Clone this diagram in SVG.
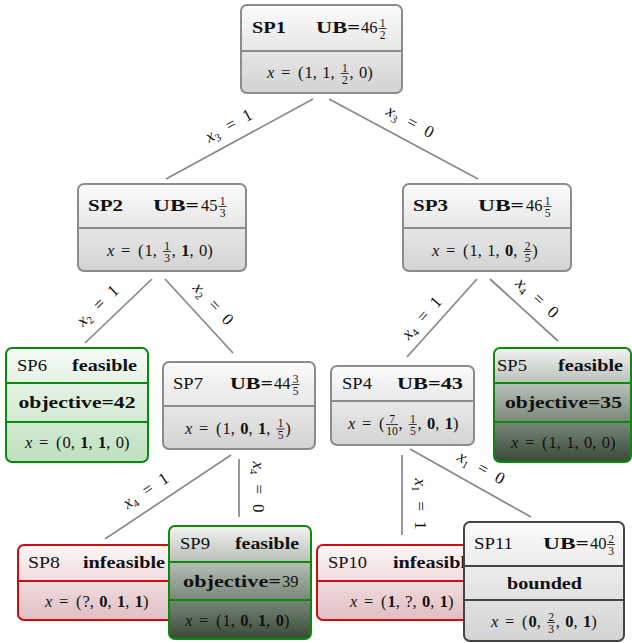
<svg xmlns="http://www.w3.org/2000/svg" width="632" height="643" viewBox="0 0 632 643">
<defs>
<linearGradient id="gGray" x1="0" y1="0" x2="0" y2="1"><stop offset="0" stop-color="#fbfbfb"/><stop offset="1" stop-color="#d3d3d3"/></linearGradient>
<linearGradient id="gGreen" x1="0" y1="0" x2="0" y2="1"><stop offset="0" stop-color="#f6fbf6"/><stop offset="1" stop-color="#bfe0bf"/></linearGradient>
<linearGradient id="gDark" x1="0" y1="0" x2="0" y2="1"><stop offset="0" stop-color="#f3f3f3"/><stop offset="0.5" stop-color="#95a195"/><stop offset="1" stop-color="#384a38"/></linearGradient>
<linearGradient id="gRed" x1="0" y1="0" x2="0" y2="1"><stop offset="0" stop-color="#fdf6f6"/><stop offset="1" stop-color="#e0bfc3"/></linearGradient>
</defs>
<style>
.t{font-family:"Liberation Serif",serif;font-size:16.5px;fill:#111}
.b{font-weight:bold}
.i{font-style:italic}
.fr{font-family:"Liberation Serif",serif;font-size:11.5px;fill:#111;text-anchor:middle}
.bar{stroke:#111;stroke-width:0.8}
.gray{fill:url(#gGray);stroke:#8c8c8c;stroke-width:2}
.grayd{stroke:#8c8c8c;stroke-width:2}
.dark{fill:url(#gGray);stroke:#444;stroke-width:2}
.darkd{stroke:#444;stroke-width:2}
.green{fill:url(#gGreen);stroke:#0a8a0a;stroke-width:2}
.dgreen{fill:url(#gDark);stroke:#0a8a0a;stroke-width:2}
.greend{stroke:#0a8a0a;stroke-width:2}
.red{fill:url(#gRed);stroke:#c81010;stroke-width:2}
.redd{stroke:#c81010;stroke-width:2}
.edge{stroke:#888;stroke-width:1.7;fill:none}
.lbl{font-family:"Liberation Serif",serif;font-size:17px;fill:#111;text-anchor:middle}
.sub{font-size:11px}
</style>

<g id="connectors">
<line class="edge" x1="313" y1="99" x2="166" y2="179"/>
<line class="edge" x1="329" y1="99" x2="478" y2="179"/>
<line class="edge" x1="152" y1="279" x2="85" y2="343"/>
<line class="edge" x1="165" y1="279" x2="233" y2="353"/>
<line class="edge" x1="477" y1="279" x2="407" y2="357"/>
<line class="edge" x1="490" y1="279" x2="558" y2="341"/>
<line class="edge" x1="231" y1="455" x2="105" y2="539"/>
<line class="edge" x1="239" y1="459" x2="239" y2="517"/>
<line class="edge" x1="402" y1="455" x2="402" y2="535"/>
<line class="edge" x1="410" y1="449" x2="531" y2="517"/>
<text class="lbl" x="229" y="131" transform="rotate(-28.6 229 126)"><tspan class="i">x</tspan><tspan class="sub" dy="3.5">3</tspan><tspan dy="-3.5" dx="10">=</tspan><tspan dx="10">1</tspan></text>
<text class="lbl" x="410" y="127" transform="rotate(28.2 410 122)"><tspan class="i">x</tspan><tspan class="sub" dy="3.5">3</tspan><tspan dy="-3.5" dx="10">=</tspan><tspan dx="10">0</tspan></text>
<text class="lbl" x="98" y="311" transform="rotate(-43.7 98 306)"><tspan class="i">x</tspan><tspan class="sub" dy="3.5">2</tspan><tspan dy="-3.5" dx="10">=</tspan><tspan dx="10">1</tspan></text>
<text class="lbl" x="213" y="309" transform="rotate(47.4 213 304)"><tspan class="i">x</tspan><tspan class="sub" dy="3.5">2</tspan><tspan dy="-3.5" dx="10">=</tspan><tspan dx="10">0</tspan></text>
<text class="lbl" x="422" y="323" transform="rotate(-48.1 422 318)"><tspan class="i">x</tspan><tspan class="sub" dy="3.5">4</tspan><tspan dy="-3.5" dx="10">=</tspan><tspan dx="10">1</tspan></text>
<text class="lbl" x="537" y="303" transform="rotate(42.4 537 298)"><tspan class="i">x</tspan><tspan class="sub" dy="3.5">4</tspan><tspan dy="-3.5" dx="10">=</tspan><tspan dx="10">0</tspan></text>
<text class="lbl" x="146" y="496" transform="rotate(-33.7 146 491)"><tspan class="i">x</tspan><tspan class="sub" dy="3.5">4</tspan><tspan dy="-3.5" dx="10">=</tspan><tspan dx="10">1</tspan></text>
<text class="lbl" x="258" y="492" transform="rotate(90 258 487)"><tspan class="i">x</tspan><tspan class="sub" dy="3.5">4</tspan><tspan dy="-3.5" dx="10">=</tspan><tspan dx="10">0</tspan></text>
<text class="lbl" x="420" y="509" transform="rotate(90 420 504)"><tspan class="i">x</tspan><tspan class="sub" dy="3.5">1</tspan><tspan dy="-3.5" dx="10">=</tspan><tspan dx="10">1</tspan></text>
<text class="lbl" x="481" y="473" transform="rotate(29.3 481 468)"><tspan class="i">x</tspan><tspan class="sub" dy="3.5">1</tspan><tspan dy="-3.5" dx="10">=</tspan><tspan dx="10">0</tspan></text>
</g>

<g id="SP1">
<rect class="gray" x="241" y="5" width="161" height="88" rx="6"/>
<line class="grayd" x1="241" y1="51" x2="402" y2="51"/>
<text class="t b" x="252" y="33" textLength="34" lengthAdjust="spacingAndGlyphs">SP1</text>
<text class="t b" x="316" y="33" textLength="44" lengthAdjust="spacingAndGlyphs">UB=</text>
<text class="t" x="361" y="33">46</text>
<text class="fr" x="382.5" y="26.5">1</text><text class="fr" x="382.5" y="38.5">2</text><line class="bar" x1="378.5" y1="28.5" x2="386.5" y2="28.5"/>
<text class="t" y="78"><tspan class="i" x="267">x</tspan><tspan x="281">=</tspan><tspan x="298">(</tspan><tspan x="304.5">1,</tspan><tspan x="322.25">1,</tspan><tspan x="349.5">,</tspan><tspan x="359">0)</tspan></text>
<text class="fr" x="344.75" y="71.5">1</text><text class="fr" x="344.75" y="83.5">2</text><line class="bar" x1="340.75" y1="73.5" x2="348.75" y2="73.5"/>
</g>

<g id="SP2">
<rect class="gray" x="78" y="184" width="168" height="87" rx="6"/>
<line class="grayd" x1="78" y1="228" x2="246" y2="228"/>
<text class="t b" x="88" y="211" textLength="35" lengthAdjust="spacingAndGlyphs">SP2</text>
<text class="t b" x="153" y="211" textLength="46" lengthAdjust="spacingAndGlyphs">UB=</text>
<text class="t" x="201" y="211">45</text>
<text class="fr" x="222.5" y="204.5">1</text><text class="fr" x="222.5" y="216.5">3</text><line class="bar" x1="218.5" y1="206.5" x2="226.5" y2="206.5"/>
<text class="t" y="256"><tspan class="i" x="107">x</tspan><tspan x="121">=</tspan><tspan x="138">(</tspan><tspan x="144.5">1,</tspan><tspan x="171.75">,</tspan><tspan x="181.25" class="b">1</tspan><tspan>,</tspan><tspan x="199">0)</tspan></text>
<text class="fr" x="167" y="249.5">1</text><text class="fr" x="167" y="261.5">3</text><line class="bar" x1="163" y1="251.5" x2="171" y2="251.5"/>
</g>

<g id="SP3">
<rect class="gray" x="403" y="184" width="168" height="87" rx="6"/>
<line class="grayd" x1="403" y1="228" x2="571" y2="228"/>
<text class="t b" x="413" y="211" textLength="35" lengthAdjust="spacingAndGlyphs">SP3</text>
<text class="t b" x="478" y="211" textLength="46" lengthAdjust="spacingAndGlyphs">UB=</text>
<text class="t" x="526" y="211">46</text>
<text class="fr" x="547.5" y="204.5">1</text><text class="fr" x="547.5" y="216.5">5</text><line class="bar" x1="543.5" y1="206.5" x2="551.5" y2="206.5"/>
<text class="t" y="256"><tspan class="i" x="432">x</tspan><tspan x="446">=</tspan><tspan x="463">(</tspan><tspan x="469.5">1,</tspan><tspan x="487.25">1,</tspan><tspan x="505" class="b">0</tspan><tspan>,</tspan><tspan x="532.25">)</tspan></text>
<text class="fr" x="527.5" y="249.5">2</text><text class="fr" x="527.5" y="261.5">5</text><line class="bar" x1="523.5" y1="251.5" x2="531.5" y2="251.5"/>
</g>

<g id="SP6">
<rect class="green" x="6" y="348" width="142" height="114" rx="6"/>
<line class="greend" x1="6" y1="383" x2="148" y2="383"/>
<line class="greend" x1="6" y1="422" x2="148" y2="422"/>
<text class="t" x="17" y="370.5" textLength="30" lengthAdjust="spacingAndGlyphs">SP6</text>
<text class="t b" x="72" y="370.5" textLength="65" lengthAdjust="spacingAndGlyphs">feasible</text>
<text class="t b" x="18.5" y="408" textLength="117" lengthAdjust="spacingAndGlyphs">objective=42</text>
<text class="t" y="448"><tspan class="i" x="25">x</tspan><tspan x="39">=</tspan><tspan x="56">(</tspan><tspan x="62.5">0,</tspan><tspan x="80.25" class="b">1</tspan><tspan>,</tspan><tspan x="98" class="b">1</tspan><tspan>,</tspan><tspan x="115.75">0)</tspan></text>
</g>

<g id="SP7">
<rect class="gray" x="163" y="362" width="152" height="87" rx="6"/>
<line class="grayd" x1="163" y1="406" x2="315" y2="406"/>
<text class="t" x="173" y="389" textLength="30" lengthAdjust="spacingAndGlyphs">SP7</text>
<text class="t b" x="230" y="389" textLength="43" lengthAdjust="spacingAndGlyphs">UB=</text>
<text class="t" x="274" y="389">44</text>
<text class="fr" x="295.5" y="382.5">3</text><text class="fr" x="295.5" y="394.5">5</text><line class="bar" x1="291.5" y1="384.5" x2="299.5" y2="384.5"/>
<text class="t" y="433.5"><tspan class="i" x="185">x</tspan><tspan x="199">=</tspan><tspan x="216">(</tspan><tspan x="222.5">1,</tspan><tspan x="240.25" class="b">0</tspan><tspan>,</tspan><tspan x="258" class="b">1</tspan><tspan>,</tspan><tspan x="285.25">)</tspan></text>
<text class="fr" x="280.5" y="427">1</text><text class="fr" x="280.5" y="439">5</text><line class="bar" x1="276.5" y1="429" x2="284.5" y2="429"/>
</g>

<g id="SP4">
<rect class="gray" x="331" y="366" width="143" height="79" rx="6"/>
<line class="grayd" x1="331" y1="401" x2="474" y2="401"/>
<text class="t" x="342" y="388.5" textLength="30" lengthAdjust="spacingAndGlyphs">SP4</text>
<text class="t b" x="397" y="388.5" textLength="66" lengthAdjust="spacingAndGlyphs">UB=43</text>
<text class="t" y="429"><tspan class="i" x="348">x</tspan><tspan x="362">=</tspan><tspan x="379">(</tspan><tspan x="398.5">,</tspan><tspan x="417.5">,</tspan><tspan x="427" class="b">0</tspan><tspan>,</tspan><tspan x="444.75" class="b">1</tspan><tspan>)</tspan></text>
<text class="fr" x="392" y="422.5">7</text><text class="fr" x="392" y="434.5">10</text><line class="bar" x1="386" y1="424.5" x2="398" y2="424.5"/>
<text class="fr" x="412.75" y="422.5">1</text><text class="fr" x="412.75" y="434.5">5</text><line class="bar" x1="408.75" y1="424.5" x2="416.75" y2="424.5"/>
</g>

<g id="SP5">
<rect class="dgreen" x="494" y="348" width="137" height="114" rx="6"/>
<line class="greend" x1="494" y1="383" x2="631" y2="383"/>
<line class="greend" x1="494" y1="422" x2="631" y2="422"/>
<text class="t" x="497" y="370.5" textLength="30" lengthAdjust="spacingAndGlyphs">SP5</text>
<text class="t b" x="558" y="370.5" textLength="65" lengthAdjust="spacingAndGlyphs">feasible</text>
<text class="t b" x="505" y="408" textLength="117" lengthAdjust="spacingAndGlyphs">objective=35</text>
<text class="t" y="448"><tspan class="i" x="511">x</tspan><tspan x="525">=</tspan><tspan x="542">(</tspan><tspan x="548.5">1,</tspan><tspan x="566.25">1,</tspan><tspan x="584">0,</tspan><tspan x="601.75">0)</tspan></text>
</g>

<g id="SP8">
<rect class="red" x="18" y="545" width="167" height="75" rx="6"/>
<line class="redd" x1="18" y1="581" x2="185" y2="581"/>
<text class="t" x="28" y="568" textLength="32" lengthAdjust="spacingAndGlyphs">SP8</text>
<text class="t b" x="83" y="568" textLength="82" lengthAdjust="spacingAndGlyphs">infeasible</text>
<text class="t" y="606.5"><tspan class="i" x="45">x</tspan><tspan x="59">=</tspan><tspan x="76">(</tspan><tspan x="82.5">?,</tspan><tspan x="99.3" class="b">0</tspan><tspan>,</tspan><tspan x="117.05" class="b">1</tspan><tspan>,</tspan><tspan x="134.8" class="b">1</tspan><tspan>)</tspan></text>
</g>

<g id="SP9">
<rect class="dgreen" x="169" y="526" width="142" height="113" rx="6"/>
<line class="greend" x1="169" y1="562" x2="311" y2="562"/>
<line class="greend" x1="169" y1="600" x2="311" y2="600"/>
<text class="t" x="180" y="549" textLength="30" lengthAdjust="spacingAndGlyphs">SP9</text>
<text class="t b" x="235" y="549" textLength="64" lengthAdjust="spacingAndGlyphs">feasible</text>
<text class="t b" x="183" y="587" textLength="98" lengthAdjust="spacingAndGlyphs">objective=</text>
<text class="t" x="282" y="587">39</text>
<text class="t" y="625.5"><tspan class="i" x="185">x</tspan><tspan x="199">=</tspan><tspan x="216">(</tspan><tspan x="222.5">1,</tspan><tspan x="240.25" class="b">0</tspan><tspan>,</tspan><tspan x="258" class="b">1</tspan><tspan>,</tspan><tspan x="275.75" class="b">0</tspan><tspan>)</tspan></text>
</g>

<g id="SP10">
<rect class="red" x="317" y="545" width="167" height="75" rx="6"/>
<line class="redd" x1="317" y1="581" x2="484" y2="581"/>
<text class="t" x="328" y="568" textLength="39" lengthAdjust="spacingAndGlyphs">SP10</text>
<text class="t b" x="393" y="568" textLength="82" lengthAdjust="spacingAndGlyphs">infeasible</text>
<text class="t" y="606.5"><tspan class="i" x="350">x</tspan><tspan x="364">=</tspan><tspan x="381">(</tspan><tspan x="387.5" class="b">1</tspan><tspan>,</tspan><tspan x="405.25">?,</tspan><tspan x="422.05" class="b">0</tspan><tspan>,</tspan><tspan x="439.8" class="b">1</tspan><tspan>)</tspan></text>
</g>

<g id="SP11">
<rect class="dark" x="464" y="522" width="160" height="119" rx="6"/>
<line class="darkd" x1="464" y1="566" x2="624" y2="566"/>
<line class="darkd" x1="464" y1="600" x2="624" y2="600"/>
<text class="t" x="474" y="549" textLength="39" lengthAdjust="spacingAndGlyphs">SP11</text>
<text class="t b" x="543" y="549" textLength="46" lengthAdjust="spacingAndGlyphs">UB=</text>
<text class="t" x="590" y="549">40</text>
<text class="fr" x="611" y="542.5">2</text><text class="fr" x="611" y="554.5">3</text><line class="bar" x1="607" y1="544.5" x2="615" y2="544.5"/>
<text class="t b" x="507" y="588.5" textLength="75" lengthAdjust="spacingAndGlyphs">bounded</text>
<text class="t" y="627"><tspan class="i" x="491">x</tspan><tspan x="505">=</tspan><tspan x="522">(</tspan><tspan x="528.5" class="b">0</tspan><tspan>,</tspan><tspan x="555.75">,</tspan><tspan x="565.25" class="b">0</tspan><tspan>,</tspan><tspan x="583" class="b">1</tspan><tspan>)</tspan></text>
<text class="fr" x="551" y="620.5">2</text><text class="fr" x="551" y="632.5">3</text><line class="bar" x1="547" y1="622.5" x2="555" y2="622.5"/>
</g>
</svg>
